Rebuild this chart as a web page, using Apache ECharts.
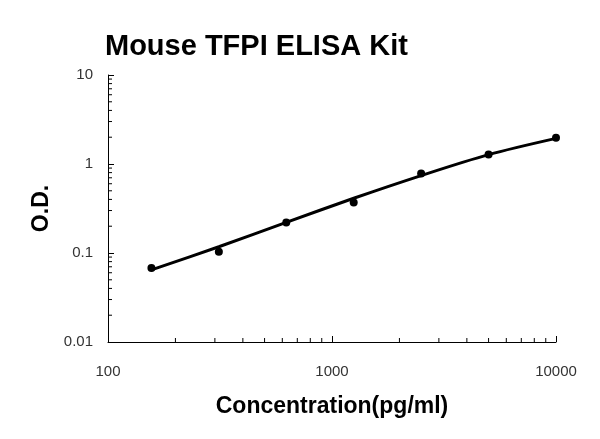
<!DOCTYPE html>
<html>
<head>
<meta charset="utf-8">
<script src="https://cdn.jsdelivr.net/npm/echarts@6/dist/echarts.min.js"></script>
<style>html,body{margin:0;padding:0;background:#fff;}#c{width:600px;height:439px;}</style>
</head>
<body>
<div id="c"></div>
<script>
const titleText = 'Mouse TFPI ELISA Kit';
const xName = 'Concentration(pg/ml)';
const yName = 'O.D.';
const concentrations = [156.25, 312.5, 625, 1250, 2500, 5000, 10000];
const odMeasured = [0.068, 0.103, 0.22, 0.37, 0.78, 1.28, 1.97];
const odFit = [0.0646, 0.1175, 0.221, 0.412, 0.741, 1.274, 1.94];
const xMinorTicks = [200, 300, 400, 500, 600, 700, 800, 900, 2000, 3000, 4000, 5000, 6000, 7000, 8000, 9000];
const yMinorTicks = [0.02, 0.03, 0.04, 0.05, 0.06, 0.07, 0.08, 0.09, 0.2, 0.3, 0.4, 0.5, 0.6, 0.7, 0.8, 0.9, 2, 3, 4, 5, 6, 7, 8, 9];

const chart = echarts.init(document.getElementById('c'));
const font = 'Liberation Sans, Arial, sans-serif';
chart.setOption({
  animation: false,
  backgroundColor: '#fff',
  title: {
    text: titleText,
    left: 100, top: 27,
    textStyle: {fontFamily: font, fontWeight: 'bold', fontSize: 29, color: '#000'}
  },
  grid: {left: 108, right: 44, top: 75, bottom: 97, containLabel: false},
  xAxis: {
    type: 'log', logBase: 10, min: 100, max: 10000,
    name: xName, nameLocation: 'middle', nameGap: 53,
    nameTextStyle: {fontFamily: font, fontWeight: 'bold', fontSize: 23, color: '#000'},
    axisLine: {lineStyle: {color: '#000', width: 1}},
    axisTick: {inside: true, length: 6, lineStyle: {color: '#000'}},
    axisLabel: {margin: 22, fontFamily: font, fontSize: 15, color: '#333', formatter: v => String(v)},
    splitLine: {show: false}
  },
  yAxis: {
    type: 'log', logBase: 10, min: 0.01, max: 10,
    name: yName, nameLocation: 'middle', nameGap: 50,
    nameTextStyle: {fontFamily: font, fontWeight: 'bold', fontSize: 23, color: '#000'},
    axisLine: {show: true, lineStyle: {color: '#000', width: 1}},
    axisTick: {show: true, inside: true, length: 6, lineStyle: {color: '#000'}},
    axisLabel: {margin: 15, fontFamily: font, fontSize: 15, color: '#333', formatter: v => String(v)},
    splitLine: {show: false}
  },
  series: [
    {
      type: 'line', smooth: 0.3, showSymbol: false, silent: true,
      data: concentrations.map((c, i) => [c, odFit[i]]),
      lineStyle: {color: '#000', width: 3}
    },
    {
      type: 'scatter', symbol: 'circle', symbolSize: 8,
      data: concentrations.map((c, i) => [c, odMeasured[i]]),
      itemStyle: {color: '#000', opacity: 1}
    },
    {
      type: 'custom', silent: true, clip: false,
      data: xMinorTicks.map(v => [v, 0.01]),
      renderItem: function (params, api) {
        const p = api.coord([api.value(0), api.value(1)]);
        return {type: 'line', shape: {x1: p[0], y1: p[1], x2: p[0], y2: p[1] - 4}, style: {stroke: '#000', lineWidth: 1}};
      }
    },
    {
      type: 'custom', silent: true, clip: false,
      data: yMinorTicks.map(v => [100, v]),
      renderItem: function (params, api) {
        const p = api.coord([api.value(0), api.value(1)]);
        return {type: 'line', shape: {x1: p[0], y1: p[1], x2: p[0] + 4, y2: p[1]}, style: {stroke: '#000', lineWidth: 1}};
      }
    }
  ]
});
</script>
</body>
</html>
